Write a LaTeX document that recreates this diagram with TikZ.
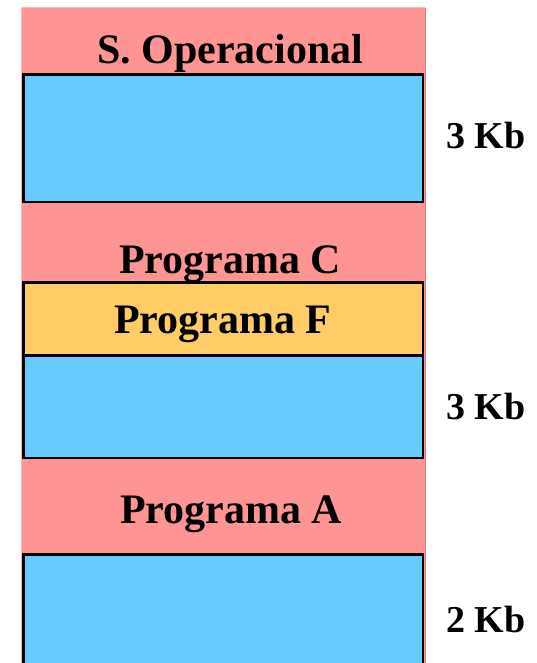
\documentclass[tikz,border=0pt]{standalone}
\usepackage{fontspec}
\setmainfont{Liberation Serif}
\definecolor{pinkbg}{HTML}{FF9494}
\definecolor{pinkedge}{HTML}{FFB8B8}
\definecolor{pinkdark}{HTML}{C88080}
\definecolor{memblue}{HTML}{66CCFF}
\definecolor{memorange}{HTML}{FFCC66}
\begin{document}
\begin{tikzpicture}[x=1pt,y=-1pt,
  freebox/.style={fill=memblue,draw=black,line width=2.5pt},
  usedbox/.style={fill=memorange,draw=black,line width=2.5pt},
  boxtext/.style={anchor=base west,inner sep=0pt,font=\fontsize{42}{48}\selectfont\bfseries},
  sizetext/.style={anchor=base west,inner sep=0pt,font=\fontsize{38}{44}\selectfont\bfseries}]
\useasboundingbox (0,0) rectangle (537,663);
\fill[pinkbg] (21,8) rectangle (425,670);
\draw[pinkedge,line width=1pt] (21,670) -- (21,8) -- (425,8);
\draw[pinkdark,line width=0.8pt] (425,8) -- (425,670);
\draw[freebox] (23.5,74.5) rectangle (423,202);
\draw[usedbox] (23.5,282.3) rectangle (423,355.3);
\draw[freebox] (23.5,355.3) rectangle (423,458);
\draw[freebox] (23.5,554.7) rectangle (423,680);
\node[boxtext] (so) at (97,64) {S. Operacional};
\node[boxtext] (pc) at (119,273) {Programa C};
\node[boxtext] (pf) at (114,333) {Programa F};
\node[boxtext] (pa) at (120,523) {Programa A};
\node[sizetext] (k1) at (446,149) {3 Kb};
\node[sizetext] (k2) at (446,419) {3 Kb};
\node[sizetext] (k3) at (446,632) {2 Kb};
\end{tikzpicture}
\end{document}
